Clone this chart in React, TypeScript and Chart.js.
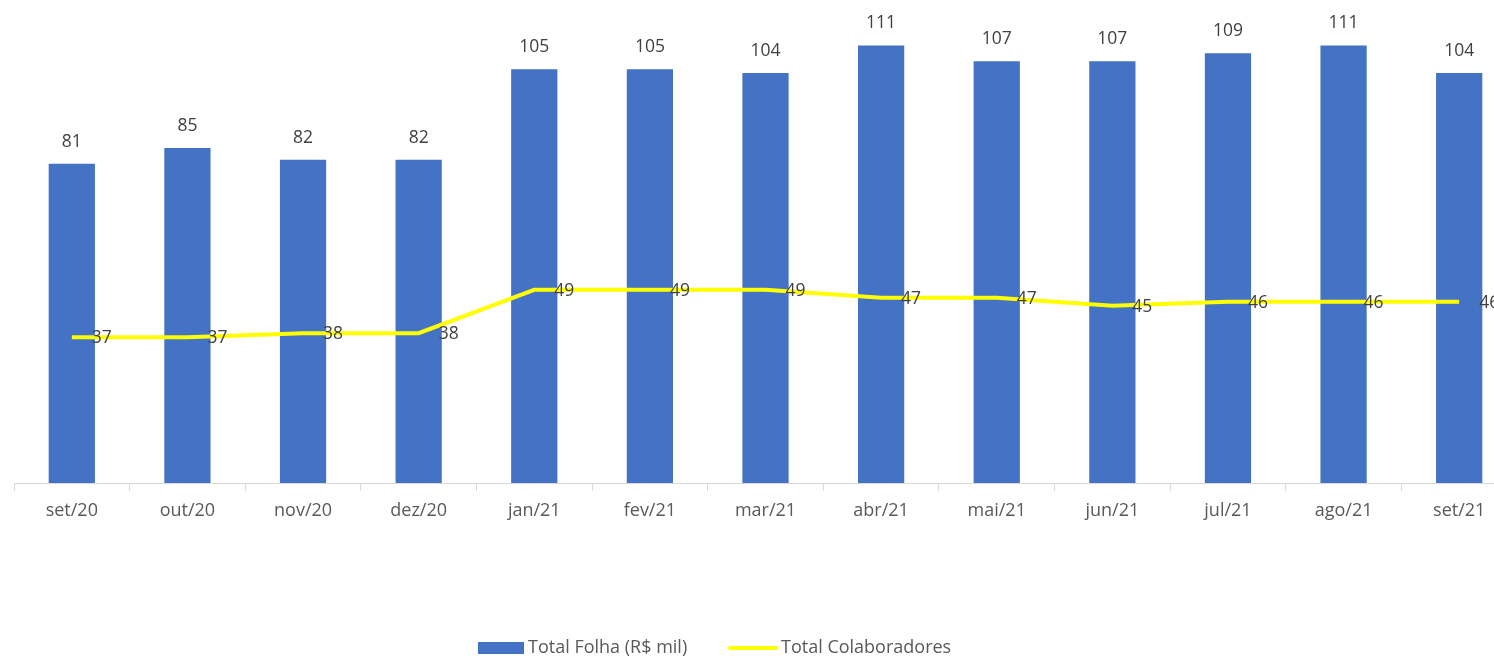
import { useEffect, useRef } from "react";
import { Chart, registerables } from "chart.js";

Chart.register(...registerables);

const categories = ["set/20", "out/20", "nov/20", "dez/20", "jan/21", "fev/21", "mar/21", "abr/21", "mai/21", "jun/21", "jul/21", "ago/21", "set/21"];
const folhaValues = [81, 85, 82, 82, 105, 105, 104, 111, 107, 107, 109, 111, 104];
const colaboradoresValues = [37, 37, 38, 38, 49, 49, 49, 47, 47, 45, 46, 46, 46];
const folhaLabel = "Total Folha (R$ mil)";
const colaboradoresLabel = "Total Colaboradores";

const FONT = "'Open Sans', 'Liberation Sans', sans-serif";
const BLUE = "#4472C4";
const YELLOW = "#FFFF00";

const labelsPlugin = {
  id: "customLabels",
  afterDatasetsDraw(chart: any) {
    const ctx = chart.ctx;
    ctx.save();
    ctx.font = `17.5px ${FONT}`;
    ctx.fillStyle = "#404040";
    const barMeta = chart.getDatasetMeta(0);
    barMeta.data.forEach((el: any, i: number) => {
      ctx.textAlign = "center";
      ctx.textBaseline = "middle";
      ctx.fillText(String(folhaValues[i]), el.x, el.y - 22);
    });
    const lineMeta = chart.getDatasetMeta(1);
    lineMeta.data.forEach((el: any, i: number) => {
      ctx.textAlign = "left";
      ctx.textBaseline = "middle";
      ctx.fillText(String(colaboradoresValues[i]), el.x + 20, el.y + 1);
    });
    ctx.restore();
  },
  afterDraw(chart: any) {
    const ctx = chart.ctx;
    ctx.save();
    const y = 648;
    ctx.fillStyle = BLUE;
    ctx.fillRect(478, y - 6, 46, 12);
    ctx.font = `18px ${FONT}`;
    ctx.fillStyle = "#595959";
    ctx.textAlign = "left";
    ctx.textBaseline = "middle";
    ctx.fillText(folhaLabel, 528, y);
    ctx.strokeStyle = YELLOW;
    ctx.lineWidth = 4;
    ctx.lineCap = "round";
    ctx.beginPath();
    ctx.moveTo(730, y);
    ctx.lineTo(776, y);
    ctx.stroke();
    ctx.fillText(colaboradoresLabel, 781, y);
    ctx.restore();
  },
};

export default function App() {
  const ref = useRef<HTMLCanvasElement | null>(null);
  useEffect(() => {
    if (!ref.current) return;
    const chart = new Chart(ref.current, {
      type: "bar",
      data: {
        labels: categories,
        datasets: [
          {
            type: "bar",
            label: folhaLabel,
            data: folhaValues,
            backgroundColor: BLUE,
            categoryPercentage: 1,
            barPercentage: 0.4,
            order: 1,
          },
          {
            type: "line",
            label: colaboradoresLabel,
            data: colaboradoresValues,
            borderColor: YELLOW,
            backgroundColor: YELLOW,
            borderWidth: 4,
            pointRadius: 0,
            tension: 0,
            order: 0,
          } as any,
        ],
      },
      options: {
        animation: false,
        responsive: false,
        maintainAspectRatio: false,
        layout: { padding: { left: 14, right: 13, top: 10, bottom: 115 } },
        plugins: { legend: { display: false }, tooltip: { enabled: false } },
        scales: {
          x: {
            offset: true,
            grid: {
              display: true,
              offset: true,
              drawOnChartArea: false,
              drawTicks: true,
              tickLength: 8,
              color: "#d9d9d9",
            },
            border: { display: true, color: "#d9d9d9" },
            ticks: { color: "#595959", font: { family: FONT, size: 18 }, padding: 9 },
            afterFit(scale: any) {
              scale.height = 60;
            },
          },
          y: { display: false, min: 0, max: 120 },
        },
      },
      plugins: [labelsPlugin],
    });
    return () => chart.destroy();
  }, []);
  return (
    <div style={{ position: "fixed", left: 0, top: 0, width: 1494, height: 658, overflow: "hidden", background: "#fff" }}>
      <canvas ref={ref} width={1530} height={658} style={{ width: 1530, height: 658, display: "block" }} />
    </div>
  );
}
